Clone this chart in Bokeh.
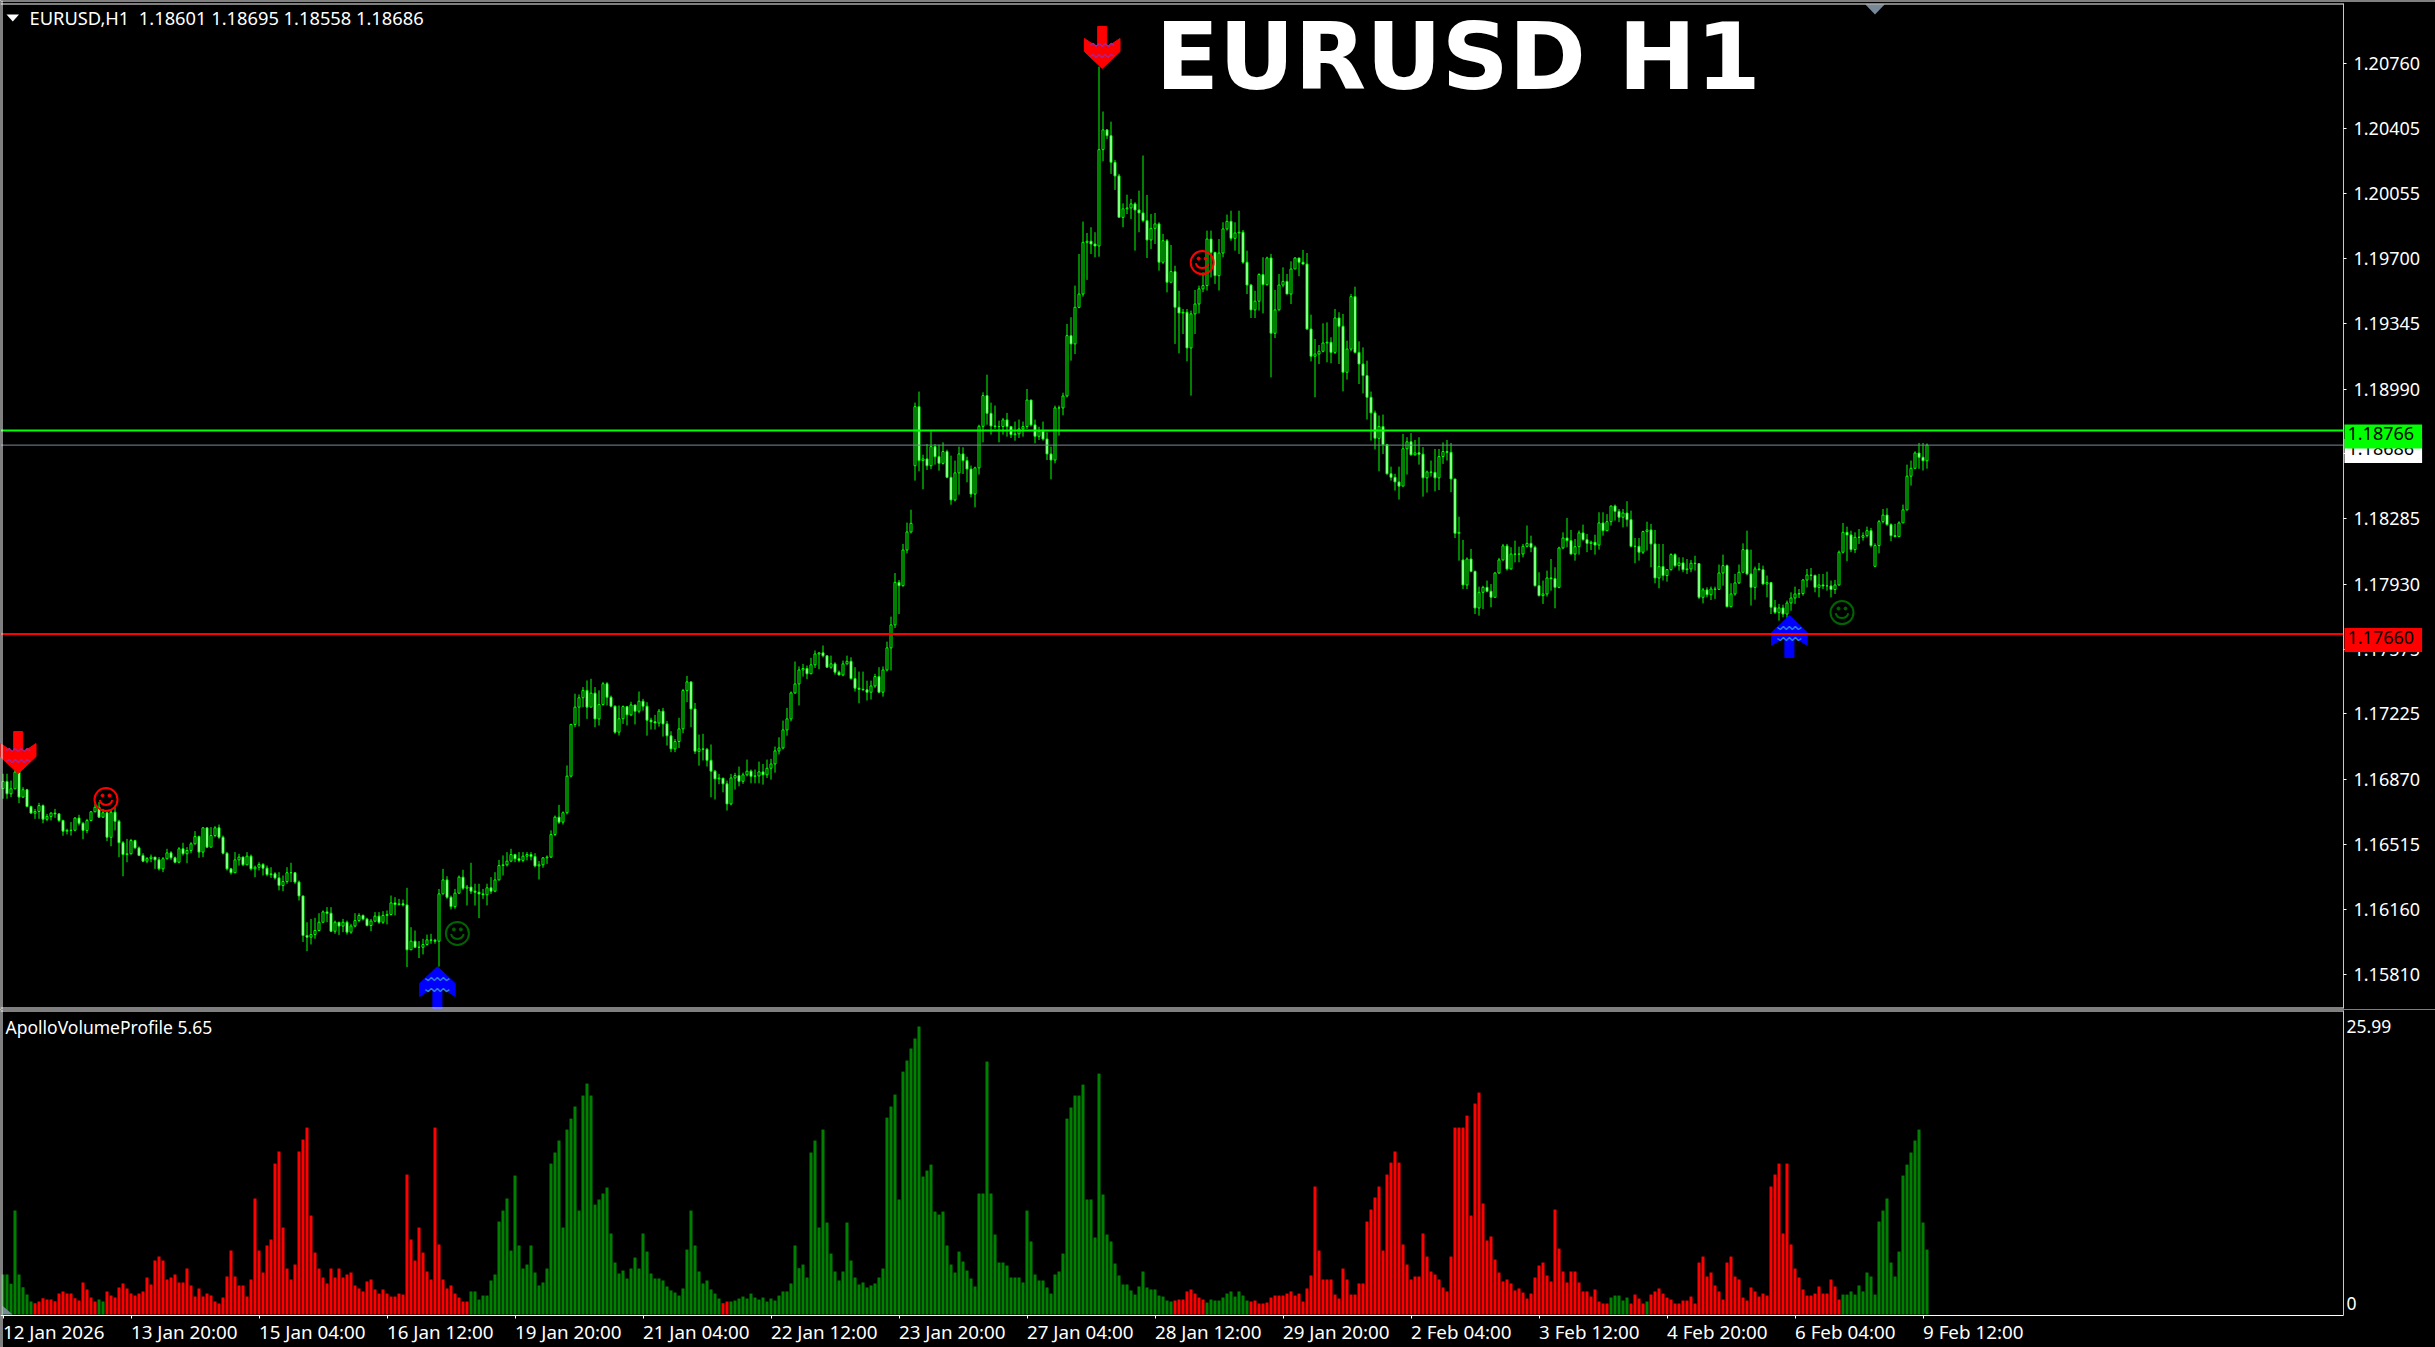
from bokeh.plotting import figure
from bokeh.models import (ColumnDataSource, Range1d, Span, Label, LabelSet, LinearAxis,
                          FixedTicker, PrintfTickFormatter)
from bokeh.layouts import column
from bokeh.core.properties import value
from bokeh.embed import file_html
from bokeh.resources import INLINE
import math

# ---- Prices: points above 1.00000 (16858 means 1.16858), one entry per H1 bar ----
closes = [
16858,16791,16818,16909,16773,16813,16722,16686,16695,16727,
16653,16668,16686,16682,16646,16588,16592,16593,16659,16631,
16592,16646,16693,16718,16664,16688,16555,16691,16642,16525,
16461,16465,16537,16497,16456,16425,16439,16447,16432,16383,
16438,16470,16443,16419,16492,16465,16483,16519,16559,16474,
16606,16501,16564,16606,16555,16468,16383,16362,16432,16447,
16405,16452,16383,16392,16407,16387,16352,16356,16334,16293,
16314,16362,16362,16311,16236,16021,16012,16026,16048,16093,
16149,16142,16044,16093,16072,16093,16039,16072,16102,16130,
16110,16075,16099,16126,16093,16130,16135,16198,16189,16193,
16187,15943,15990,15957,15957,15972,15997,15995,15990,16247,
16323,16229,16178,16251,16338,16278,16284,16262,16256,16247,
16242,16280,16262,16323,16401,16405,16425,16461,16438,16429,
16452,16461,16450,16399,16405,16443,16447,16570,16664,16637,
16688,16887,17168,17262,17313,17353,17262,17338,17198,17276,
17389,17316,17267,17126,17199,17265,17220,17274,17240,17294,
17267,17191,17182,17176,17240,17171,17106,17035,17075,17144,
17352,17399,17252,17022,17035,17033,16973,16914,16872,16876,
16845,16736,16877,16890,16859,16894,16914,16886,16888,16910,
16894,16930,16953,17024,17040,17138,17198,17339,17388,17464,
17472,17443,17492,17551,17557,17541,17479,17497,17452,17437,
17497,17511,17417,17365,17359,17356,17343,17377,17428,17343,
17464,17584,17709,17940,17922,18116,18214,18261,18895,18602,
18611,18574,18678,18623,18587,18651,18511,18388,18535,18638,
18602,18556,18420,18562,18788,18955,18859,18790,18787,18787,
18823,18787,18743,18747,18774,18787,18931,18796,18734,18761,
18719,18638,18605,18888,18888,18953,19281,19236,19435,19507,
19788,19794,19779,19768,20292,20399,20368,20223,20149,19924,
19970,19975,19997,19964,19948,19906,19801,19864,19888,19680,
19797,19571,19629,19435,19404,19408,19214,19399,19453,19535,
19553,19806,19734,19607,19730,19861,19902,19810,19839,19843,
19680,19556,19421,19468,19613,19558,19703,19294,19421,19556,
19576,19507,19643,19703,19680,19670,19317,19169,19181,19196,
19241,19245,19190,19377,19332,19082,19208,19493,19190,19127,
19064,18946,18861,18723,18787,18689,18530,18511,18486,18463,
18666,18704,18633,18644,18637,18508,18540,18538,18508,18624,
18651,18647,18502,18207,18212,17926,18067,18000,17801,17886,
17913,17892,17859,17991,18062,18138,18013,18094,18093,18094,
18136,18152,18131,17922,17868,17877,17964,17960,17913,18127,
18181,18167,18094,18134,18209,18172,18152,18158,18143,18263,
18221,18270,18355,18326,18294,18317,18281,18136,18136,18104,
18216,18225,18149,17964,18026,17977,18009,18091,18031,18046,
18009,18013,18044,18042,17859,17899,17873,17904,17902,17991,
18031,17808,17877,17937,17995,18118,17986,17913,18013,18009,
17931,17939,17805,17777,17801,17768,17828,17855,17877,17879,
17953,17980,17978,17913,17926,17921,17921,17901,17926,18104,
18212,18198,18118,18185,18185,18194,18221,18140,18140,18270,
18306,18254,18194,18189,18263,18334,18517,18560,18643,18620,18601,18686]

highs = [
16900,16900,16863,16932,16918,16827,16818,16727,16709,16742,
16733,16682,16691,16709,16682,16650,16601,16637,16664,16677,
16637,16655,16697,16737,16746,16709,16691,16704,16718,16650,
16534,16546,16546,16541,16505,16468,16447,16461,16438,16447,
16447,16492,16479,16450,16501,16525,16501,16528,16588,16564,
16610,16601,16610,16615,16624,16564,16474,16387,16474,16465,
16450,16474,16461,16401,16419,16414,16401,16392,16365,16365,
16347,16392,16416,16365,16320,16233,16093,16111,16117,16142,
16157,16175,16175,16102,16093,16111,16102,16084,16142,16142,
16135,16117,16111,16148,16148,16153,16157,16238,16229,16220,
16216,16280,16066,16048,15990,16003,16026,16030,16003,16274,
16383,16343,16238,16274,16347,16378,16296,16416,16302,16302,
16274,16302,16338,16365,16432,16456,16474,16492,16465,16474,
16474,16474,16474,16468,16425,16447,16456,16592,16673,16731,
16695,16945,17171,17335,17331,17371,17407,17416,17371,17353,
17398,17398,17325,17271,17271,17271,17252,17291,17274,17347,
17307,17289,17204,17220,17252,17258,17187,17131,17089,17204,
17361,17432,17403,17285,17113,17117,17040,17059,16921,16899,
16863,16863,16899,16905,16939,16906,16977,16923,16923,16966,
16953,16977,16981,17048,17098,17189,17258,17347,17510,17483,
17497,17488,17530,17570,17560,17597,17542,17542,17506,17461,
17515,17542,17533,17479,17455,17455,17406,17406,17443,17479,
17483,17618,17754,17991,17953,18149,18265,18335,18917,18977,
18634,18692,18761,18692,18689,18701,18661,18629,18602,18678,
18674,18623,18575,18569,18797,18973,19069,18917,18901,18819,
18834,18861,18774,18814,18825,18814,18991,18932,18825,18786,
18814,18756,18678,18901,18901,18971,19344,19381,19553,19725,
19901,19839,19870,19843,20743,20499,20404,20444,20236,20160,
20000,20047,20024,20006,20069,20260,20046,19942,19948,19897,
19834,19806,19774,19661,19525,19426,19426,19417,19529,19553,
19625,19852,19852,19734,19806,19897,19939,19960,19897,19960,
19855,19743,19562,19525,19620,19707,19710,19725,19529,19616,
19652,19616,19685,19707,19698,19747,19730,19395,19263,19230,
19348,19353,19272,19426,19408,19399,19254,19507,19547,19250,
19217,19145,18977,18874,18847,18852,18693,18569,18530,18569,
18747,18729,18751,18714,18729,18675,18548,18602,18665,18665,
18701,18714,18698,18502,18297,18171,18076,18122,18004,17917,
17922,17950,17931,17995,18073,18149,18149,18131,18167,18134,
18149,18249,18194,18140,17995,17950,18004,18067,18022,18134,
18212,18290,18225,18176,18222,18254,18203,18167,18199,18321,
18321,18311,18357,18363,18339,18339,18381,18330,18181,18181,
18221,18270,18258,18225,18149,18149,18013,18098,18098,18076,
18076,18067,18062,18085,18044,17910,17913,17917,17917,18037,
18091,18037,17935,17986,18037,18152,18221,18118,18026,18046,
18031,17977,17940,17844,17823,17819,17841,17886,17917,17904,
17959,18013,18018,17982,17986,17986,17998,17950,17953,18113,
18263,18243,18221,18212,18230,18212,18243,18236,18152,18279,
18339,18343,18261,18258,18272,18363,18580,18602,18652,18698,18698,18695]

lows = [
16764,16764,16773,16818,16740,16769,16722,16682,16655,16655,
16631,16642,16646,16660,16637,16563,16570,16564,16588,16619,
16544,16577,16642,16691,16660,16660,16534,16506,16592,16447,
16343,16419,16461,16492,16452,16419,16414,16419,16383,16374,
16365,16434,16432,16414,16414,16456,16414,16468,16515,16443,
16447,16497,16501,16555,16546,16461,16374,16352,16362,16401,
16398,16432,16374,16338,16374,16347,16343,16334,16325,16266,
16262,16302,16311,16302,16211,15986,15936,15972,16003,16044,
16090,16093,16039,16030,16024,16039,16026,16030,16066,16093,
16102,16070,16044,16093,16084,16084,16081,16130,16130,16184,
16179,15849,15943,15952,15898,15918,15966,15976,15976,15852,
16244,16220,16162,16166,16247,16269,16184,16247,16184,16115,
16220,16184,16247,16256,16320,16347,16396,16419,16419,16419,
16419,16429,16429,16392,16325,16389,16410,16443,16561,16628,
16624,16679,16881,17153,17157,17262,17198,17262,17153,17162,
17271,17271,17262,17117,17108,17171,17162,17213,17168,17229,
17243,17107,17140,17140,17156,17102,17053,17017,17017,17040,
17120,17289,17153,17008,16944,16972,16939,16772,16760,16843,
16799,16700,16729,16814,16832,16845,16886,16848,16848,16848,
16841,16877,16868,16906,17005,17033,17107,17185,17334,17271,
17428,17414,17443,17475,17468,17533,17475,17470,17439,17434,
17430,17493,17412,17347,17283,17352,17298,17303,17367,17339,
17319,17457,17461,17692,17768,17917,18098,18207,18493,18544,
18446,18551,18556,18580,18547,18580,18506,18362,18381,18417,
18529,18484,18402,18348,18526,18701,18797,18743,18774,18701,
18743,18732,18725,18710,18725,18732,18774,18787,18696,18714,
18710,18605,18500,18587,18738,18848,18946,19145,19181,19430,
19493,19584,19725,19707,19710,20229,20350,20160,20073,19924,
19870,19942,19915,19743,19843,19897,19703,19752,19779,19634,
19671,19516,19571,19236,19185,19290,19141,18955,19290,19402,
19517,19526,19598,19562,19526,19707,19852,19797,19743,19725,
19671,19507,19377,19377,19417,19402,19553,19054,19268,19417,
19544,19507,19453,19643,19604,19667,19312,19141,18946,19127,
19190,19136,19131,19181,19127,18978,19042,19196,19185,19018,
18967,18825,18711,18662,18544,18638,18526,18493,18439,18390,
18463,18526,18629,18629,18580,18406,18428,18515,18435,18442,
18584,18602,18430,18181,18058,17904,17904,17995,17768,17759,
17795,17886,17805,17873,17986,18058,18004,18009,18049,18049,
18076,18131,18104,17917,17864,17823,17863,17895,17799,17908,
18122,18131,18091,18058,18091,18167,18104,18116,18091,18118,
18194,18225,18249,18276,18267,18239,18243,18131,18044,18058,
18094,18113,18022,17935,17908,17950,17944,18004,18022,18004,
17995,17986,17995,18004,17850,17826,17859,17844,17850,17899,
17922,17805,17805,17868,17931,17995,17980,17814,17846,18004,
17928,17859,17768,17768,17732,17750,17747,17786,17823,17855,
17868,17913,17950,17886,17859,17904,17895,17859,17877,17922,
18098,18055,18104,18100,18149,18167,18185,18131,18027,18098,
18261,18248,18164,18185,18189,18263,18330,18466,18557,18557,18548,18558]

first_open = 16820
gap_opens = {228: 18574, 365: 18062, 468: 18027}   # bars that open away from the last close

volumes = [
3.61,3.61,2.77,9.38,3.61,2.47,1.80,1.17,1.02,1.17,1.47,1.35,1.35,1.20,1.89,2.08,1.89,1.89,1.47,1.26,
2.89,2.26,1.53,1.17,1.35,1.17,2.08,1.71,1.53,2.44,2.80,2.35,1.89,1.71,1.89,2.08,3.34,2.71,4.87,5.23,
4.87,3.16,3.34,3.61,2.89,2.89,4.15,2.62,1.62,2.35,1.62,1.89,1.71,1.17,0.99,1.53,3.43,5.77,3.43,2.62,
2.62,1.62,3.16,10.47,5.77,3.79,6.23,6.77,13.62,14.71,7.85,4.15,3.16,4.51,14.71,15.79,16.87,8.93,5.59,4.15,
3.34,2.80,4.15,3.34,4.15,3.34,3.61,3.79,2.62,2.35,2.08,2.98,3.16,2.26,1.89,2.26,1.89,1.62,1.62,1.89,
1.80,12.63,6.77,4.87,7.85,5.59,3.88,3.16,16.87,6.32,3.16,2.35,2.62,1.89,1.53,1.17,1.17,
2.08,2.08,1.35,1.71,1.71,3.07,3.61,8.39,9.38,10.47,5.77,12.54,6.23,4.15,4.51,6.23,3.79,2.62,2.89,4.15,
13.62,14.62,15.70,7.85,16.69,17.68,18.77,9.38,19.76,20.84,19.76,9.92,10.38,10.92,11.46,7.31,4.69,3.70,3.97,3.25,
4.15,5.14,4.15,7.31,5.68,3.70,3.25,3.25,3.07,2.53,2.17,1.98,1.71,2.35,5.86,9.38,6.23,3.88,2.80,3.07,
2.26,1.89,1.44,
1.02,1.17,1.17,1.26,1.44,1.62,1.44,1.89,1.53,1.35,1.53,1.17,1.44,1.26,1.71,2.08,2.08,2.80,6.23,4.18,
4.51,3.34,14.62,15.70,7.85,16.69,8.30,5.50,3.88,3.07,3.88,8.30,4.87,3.34,2.71,2.89,2.44,2.62,2.80,3.34,
4.15,17.77,18.77,19.85,10.38,21.92,22.92,24.00,24.90,25.99,12.45,12.99,13.53,9.29,9.02,9.29,6.23,4.51,3.79,5.68,
4.78,3.97,3.25,2.53,10.92,10.92,22.83,10.92,7.22,4.69,4.69,4.42,3.34,3.34,3.34,2.89,9.38,6.59,3.61,3.07,
3.07,2.44,1.89,3.61,3.88,5.50,17.68,18.68,19.76,19.76,20.75,10.38,10.38,6.95,21.74,10.83,7.22,6.59,4.60,3.52,
2.71,2.71,2.17,1.80,2.53,3.88,2.44,2.26,2.26,1.71,1.62,1.26,1.17,
1.26,1.35,1.35,2.08,2.26,1.89,1.53,1.35,
1.08,1.35,1.26,1.26,1.53,1.89,2.08,1.62,2.08,1.71,1.26,
1.17,1.26,0.99,0.99,1.08,1.53,1.71,1.71,1.71,1.89,2.08,1.71,1.89,1.17,2.35,3.52,11.55,5.77,3.16,3.16,
3.16,1.80,1.44,4.15,3.16,1.80,1.80,2.80,2.80,8.39,9.47,10.56,11.55,5.77,12.63,13.71,14.71,13.71,6.32,4.51,
3.16,3.43,3.43,7.31,5.23,3.88,3.61,3.16,2.44,2.08,5.23,16.87,16.87,16.87,17.95,8.93,19.04,20.03,10.02,6.68,
7.04,4.96,3.79,2.98,3.16,2.80,2.17,2.35,1.98,1.44,1.89,3.34,4.42,4.69,3.52,2.98,9.47,5.95,3.88,2.89,
3.88,3.88,2.89,2.08,2.08,1.62,2.26,1.17,
0.99,0.99,1.53,1.71,1.71,1.26,1.53,0.99,1.80,1.44,0.99,1.17,1.80,2.08,2.35,1.89,1.53,1.35,0.99,0.99,
1.26,1.26,1.62,0.99,4.69,5.23,3.43,3.79,2.62,2.08,1.35,4.69,5.23,3.43,3.16,1.53,1.26,2.44,2.08,1.62,
1.89,1.71,11.55,12.63,13.62,7.31,13.62,6.32,4.15,3.34,2.26,1.71,1.71,1.89,2.53,1.89,1.89,3.16,2.53,1.35,
1.80,1.80,2.08,1.80,2.62,2.08,3.79,3.43,1.80,8.39,9.38,10.47,4.69,3.43,5.68,12.54,13.53,14.62,15.70,16.69,8.30,5.86]

# inclusive bar ranges of the histogram that are green; every other bar is red
green_runs = [(0, 7), (24, 25), (117, 179), (182, 292), (301, 311), (402, 406), (411, 411), (460, 481)]

tick_every = 32
date_labels = ["12 Jan 2026", "13 Jan 20:00", "15 Jan 04:00", "16 Jan 12:00", "19 Jan 20:00", "21 Jan 04:00",
               "22 Jan 12:00", "23 Jan 20:00", "27 Jan 04:00", "28 Jan 12:00", "29 Jan 20:00", "2 Feb 04:00",
               "3 Feb 12:00", "4 Feb 20:00", "6 Feb 04:00", "9 Feb 12:00"]
price_ticks = [1.20760, 1.20405, 1.20055, 1.19700, 1.19345, 1.18990, 1.18640, 1.18285,
               1.17930, 1.17575, 1.17225, 1.16870, 1.16515, 1.16160, 1.15810]

bid_level = 1.18686
green_level = 1.18766
red_level = 1.17660

down_arrows_x, down_arrows_y = [3.8, 274.8], [1.16901, 1.20733]
up_arrows_x, up_arrows_y = [108.6, 446.6], [1.15852, 1.17760]
red_smile_x, red_smile_y = [25.75, 299.8], [1.16760, 1.19678]
green_smile_x, green_smile_y = [113.6, 459.75], [1.16032, 1.17776]

# ---- scales ----
PX_PER_BAR = 4.0
PX_PER_UNIT = 18400.0
PX_PER_VOL = 11.08
TOTAL_W = 2435
MAIN_H = 1009
VOL_H = 338

pr = lambda v: 1 + v / 100000
n = len(closes)
if not (n == len(highs) == len(lows) == len(volumes)):
    raise SystemExit(f"lengths {n} {len(highs)} {len(lows)} {len(volumes)}")
idx = list(range(n))
opens_p = [gap_opens.get(i, first_open if i == 0 else closes[i - 1]) for i in idx]
c_p = [pr(v) for v in closes]
o_p = [pr(v) for v in opens_p]
h_p = [pr(v) for v in highs]
l_p = [pr(v) for v in lows]

x_left = -0.625
x_axis_at = x_left + 2343 / PX_PER_BAR
x_range = Range1d(x_left, x_left + TOTAL_W / PX_PER_BAR)
y_top = 1.2076 + 63 / PX_PER_UNIT
main_y = Range1d(y_top - MAIN_H / PX_PER_UNIT, y_top)
price_at = lambda px: y_top - px / PX_PER_UNIT

FONT = "Noto Sans"
BG = "#000000"
GREEN = "#00ff00"

p = figure(width=TOTAL_W, height=MAIN_H, x_range=x_range, y_range=main_y, output_backend="svg",
           toolbar_location=None, x_axis_location=None, y_axis_location=None,
           background_fill_color=BG, border_fill_color=BG, outline_line_color=None,
           min_border_left=0, min_border_right=0, min_border_top=0, min_border_bottom=0)
p.grid.visible = False

src = ColumnDataSource(dict(
    x=idx, open=o_p, close=c_p, high=h_p, low=l_p,
    top=[max(a, b) for a, b in zip(o_p, c_p)], bottom=[min(a, b) for a, b in zip(o_p, c_p)],
    fill=["#000000" if c > o else "#ffffff" for o, c in zip(o_p, c_p)]))
p.segment("x", "high", "x", "low", source=src, line_color=GREEN, line_width=1)
p.vbar("x", 0.5, "top", "bottom", source=src, fill_color="fill", line_color=GREEN, line_width=1)

# signal arrows
dx = lambda px: px / PX_PER_BAR
dy = lambda px: px / PX_PER_UNIT
ARROW = [(0, 0), (-17.8, 17), (-17.8, 30), (-4.5, 21), (-4.5, 42), (4.5, 42), (4.5, 21), (17.8, 30), (17.8, 17)]
ZIG = [(-12, 0), (-9, 2), (-6, -1), (-3, 2), (0, -1), (3, 2), (6, -1), (9, 2), (12, 0)]

def arrows(xs, ys, sign, fill, zig):
    p.patches([[x + dx(a) for a, _ in ARROW] for x in xs],
              [[y + sign * dy(b) for _, b in ARROW] for y in ys],
              fill_color=fill, line_color=fill, line_width=1)
    zx, zy = [], []
    for x, y in zip(xs, ys):
        for h in (12, 23):
            zx.append([x + dx(a) for a, _ in ZIG])
            zy.append([y + sign * dy(h + b) for _, b in ZIG])
    p.multi_line(zx, zy, line_color=zig, line_width=1.5)

arrows(down_arrows_x, down_arrows_y, 1, "#ff0000", "#b0208c")
arrows(up_arrows_x, up_arrows_y, -1, "#0000ff", "#2a80e0")

# level lines stop at the price axis
levels = [bid_level, green_level, red_level]
p.segment([x_left] * 3, levels, [x_axis_at] * 3, levels,
          line_color=["#778899", GREEN, "#ff0000"], line_width=[1, 2, 2])

def smileys(xs, ys, color):
    p.scatter(xs, ys, marker="circle", size=23, fill_color=None, line_color=color, line_width=2)
    for s in (-1, 1):
        p.scatter([x + s * dx(3.5) for x in xs], [y + dy(4) for y in ys], marker="circle", size=3,
                  fill_color=color, line_color=color)
    p.arc(xs, [y + dy(1) for y in ys], radius=6.5, radius_units="screen",
          start_angle=math.pi * 1.08, end_angle=math.pi * 1.92, line_color=color, line_width=2)

smileys(red_smile_x, red_smile_y, "#ff0000")
smileys(green_smile_x, green_smile_y, "#006400")

# little pointers
p.patch([468.0 - 2.4, 468.0 + 2.4, 468.0], [price_at(4), price_at(4), price_at(14)], fill_color="#778899", line_color=None)
p.patch([0.875, 4.0, 2.45], [price_at(14), price_at(14), price_at(21)], fill_color="#ffffff", line_color=None)

# frame lines
p.add_layout(Span(location=0.5, location_units="canvas", dimension="width", line_color="#808080", line_width=2))
p.add_layout(Span(location=1.5, location_units="canvas", dimension="height", line_color="#ffffff", line_width=1))
frame_y = [price_at(3.5), price_at(1007.5)]
p.segment([x_left] * 2, frame_y, [x_axis_at] * 2, frame_y, line_color="#ffffff", line_width=1)

# price axis, drawn at a fixed place of the full-width frame
ax = LinearAxis(ticker=FixedTicker(ticks=price_ticks), formatter=PrintfTickFormatter(format="%.5f"),
                fixed_location=x_axis_at, bounds=(price_at(1008), price_at(3)),
                axis_line_color="#c8c8c8", axis_line_width=1, major_tick_line_color="#ffffff",
                major_tick_in=0, major_tick_out=3, minor_tick_line_color=None, major_label_standoff=7,
                major_label_text_color="#ffffff", major_label_text_font=FONT, major_label_text_font_size="18px")
p.add_layout(ax, "right")

def price_box(level, text, fill):
    p.add_layout(Label(x=2344, x_units="canvas", y=level, y_units="data", y_offset=-6, text=text,
                       text_font=FONT, text_font_size="18px", text_color="#000000",
                       text_baseline="middle", text_align="left",
                       background_fill_color=fill, padding=(3, 8, 3, 8), level="overlay"))

price_box(bid_level, "1.18686", "#ffffff")
price_box(green_level, "1.18766", GREEN)
price_box(red_level, "1.17660", "#ff0000")

p.add_layout(Label(x=29, y=17, x_units="canvas", y_units="canvas",
                   text="EURUSD,H1\u00a0\u00a01.18601 1.18695 1.18558 1.18686",
                   text_font=FONT, text_font_size="18.3px", text_color="#ffffff", text_baseline="alphabetic"))
p.add_layout(Label(x=1155, y=56, x_units="canvas", y_units="canvas", text="EURUSD H1",
                   text_font="DejaVu Sans", text_font_style="bold", text_font_size="93px",
                   text_color="#ffffff", text_baseline="alphabetic"))

# ---- volume panel ----
vol_y = Range1d((1314 - 1009 - VOL_H) / PX_PER_VOL, (1314 - 1009) / PX_PER_VOL)
q = figure(width=TOTAL_W, height=VOL_H, x_range=x_range, y_range=vol_y, output_backend="svg",
           toolbar_location=None, x_axis_location=None, y_axis_location=None,
           background_fill_color=BG, border_fill_color=BG, outline_line_color=None,
           min_border_left=0, min_border_right=0, min_border_top=0, min_border_bottom=0)
q.grid.visible = False

colors = ["#ff0000"] * n
for a, b in green_runs:
    for i in range(a, b + 1):
        colors[i] = "#008000"
q.vbar(idx, 0.75, volumes, 0, fill_color=colors, line_color=None)
q.patch([-0.125, -0.125, 2.4], [0.8, 0, 0], fill_color="#778899", line_color=None)

vol_at = lambda px: (1314 - px) / PX_PER_VOL
tick_x = [tick_every * k for k in range(len(date_labels))]
bx = LinearAxis(ticker=FixedTicker(ticks=tick_x), major_label_overrides={t: "" for t in tick_x},
                fixed_location=vol_at(1315), bounds=(x_left, x_axis_at),
                axis_line_color="#ffffff", axis_line_width=1, major_tick_line_color="#ffffff",
                major_tick_in=0, major_tick_out=3, minor_tick_line_color=None)
q.add_layout(bx, "below")

lab_src = ColumnDataSource(dict(x=tick_x, y=[vol_at(1331)] * len(tick_x), text=date_labels))
q.add_layout(LabelSet(x="x", y="y", text="text", source=lab_src, text_font=value(FONT), text_font_size="18.8px",
                      text_color="#ffffff", text_baseline="middle", text_align="left"))

vy = LinearAxis(ticker=FixedTicker(ticks=[25.99, 1.0]), major_label_overrides={25.99: "25.99", 1.0: "0"},
                fixed_location=x_axis_at, bounds=(vol_at(1315), vol_at(1010)),
                axis_line_color="#c8c8c8", axis_line_width=1, major_tick_line_color=None, minor_tick_line_color=None,
                major_tick_in=0, major_tick_out=0, major_label_standoff=3,
                major_label_text_color="#ffffff", major_label_text_font=FONT, major_label_text_font_size="17.5px")
q.add_layout(vy, "right")
q.add_layout(Span(location=1.5, location_units="canvas", dimension="height", line_color="#ffffff", line_width=1))
q.segment([x_left], [vol_at(1010.5)], [x_axis_at], [vol_at(1010.5)], line_color="#ffffff", line_width=1)
q.add_layout(Label(x=5, y=17, x_units="canvas", y_units="canvas", text="ApolloVolumeProfile 5.65",
                   text_font=FONT, text_font_size="17.5px", text_color="#ffffff", text_baseline="alphabetic"))

layout = column(p, q, spacing=0)
open("out.html", "w").write(file_html(layout, INLINE))
